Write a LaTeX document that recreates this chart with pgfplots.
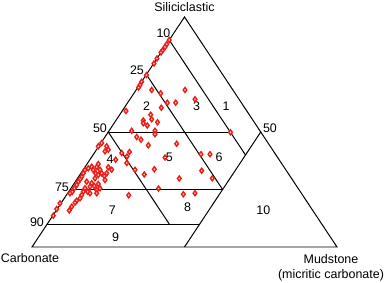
\documentclass[border=0pt]{standalone}
\usepackage{pgfplots}
\pgfplotsset{compat=1.18}
\usepackage{pgfplotstable}
\usepackage{fontspec}
\setmainfont{Liberation Sans}
\definecolor{ptred}{RGB}{235,30,25}
\definecolor{ptfill}{RGB}{255,215,205}

% sample positions in the diagram plane (x along base, y = siliciclastic level)
\pgfplotstableread{
x y
137.3 207
134.7 202.7
133 200
130.5 196.5
129 194.5
125 188.5
122 183.5
114.5 172
109.7 165.3
108 162
106.5 159.5
119.7 157
128.7 153.7
153 157
163 147.7
135.3 144.3
143.7 144.3
129.3 139.3
94 136
118.7 132.3
119.7 127.7
111.3 126.5
111.3 123.7
115.3 121.5
125.5 124.7
99.7 116.2
123 116.2
123 112.8
104.7 110
109 107.3
116.3 101.7
144.7 103.2
198.5 114.7
133 89.5
169 92.8
178 92.8
169.7 76.3
180.3 68.7
103 77.2
122.3 77.8
112.3 72.5
147.3 68.5
126.5 58.5
96.7 51.7
151.3 52.8
163 53.8
97.5 95
95 90.5
94.7 84
69.7 104
66.3 100.7
74.7 100.7
76.3 97.3
73 95.7
83.7 87.3
76.3 79.7
79.7 77.3
68 77.3
89.7 94
64.7 80
56.3 78.7
59.7 80.3
61.3 77
66.3 83
63.7 73.7
66.3 72
69.7 73.7
72.3 71
74.7 73.7
73 67
63 68.7
59.7 63.7
58 60.3
62.3 61
66.3 63
64.7 57
68 58.7
64.7 53.7
53 77
51.3 73.7
49.7 70.3
48 67.7
46.3 65.3
44.7 62
42.3 58.7
40.3 55.3
38 53.7
53 58.7
51.3 55.3
49.7 52
48 48.7
44.7 46.3
43 44.3
54.7 65.3
55.7 55.3
58 53.7
28 43.7
24.7 38
21.3 31.3
39.7 40.3
37.3 36.5
}\samples

\begin{document}
\begin{tikzpicture}[lab/.style={font=\fontsize{12.5}{15}\selectfont, inner sep=0pt}]
\begin{axis}[
  x=1bp, y=1bp,
  xmin=0, xmax=305, ymin=0, ymax=230,
  hide axis, clip=false,
]
% outer triangle
\addplot[black, line width=1pt, mark=none] coordinates {(0,0) (152.5,230) (305,0)} -- cycle;
% C = 10 %
\addplot[black, line width=1pt, mark=none] coordinates {(137.25,207) (213.5,92)};
% C = 25 %
\addplot[black, line width=1pt, mark=none] coordinates {(114.375,172.5) (190.625,57.5)};
% C = 50 %
\addplot[black, line width=1pt, mark=none] coordinates {(76.25,115) (137.25,23)};
% M = 50 %
\addplot[black, line width=1pt, mark=none] coordinates {(228.75,115) (152.5,0)};
% S = 50 %
\addplot[black, line width=1pt, mark=none] coordinates {(76.25,115) (198.25,115)};
% S = 25 %
\addplot[black, line width=1pt, mark=none] coordinates {(38.125,57.5) (190.625,57.5)};
% S = 10 %
\addplot[black, line width=1pt, mark=none] coordinates {(15.25,23) (167.75,23)};

\addplot[only marks, mark=diamond*, mark size=2.5pt,
  mark options={draw=ptred, fill=ptfill, line width=1.4pt}] table[x=x,y=y] {\samples};

% vertex titles
\node[lab] at (axis cs:152.5,240) {Siliciclastic};
\node[lab] at (axis cs:-2,-11) {Carbonate};
\node[lab, align=center] at (axis cs:299,-20.5) {Mudstone\\(micritic carbonate)};
% scale labels
\node[lab] at (axis cs:131.5,214) {10};
\node[lab] at (axis cs:105,177) {25};
\node[lab] at (axis cs:68,119) {50};
\node[lab] at (axis cs:30,60) {75};
\node[lab] at (axis cs:5,25) {90};
\node[lab] at (axis cs:238,119) {50};
% field numbers
\node[lab] at (axis cs:194,140.5) {1};
\node[lab] at (axis cs:114.7,141) {2};
\node[lab] at (axis cs:164.7,141) {3};
\node[lab] at (axis cs:78,87.7) {4};
\node[lab] at (axis cs:137.3,89.7) {5};
\node[lab] at (axis cs:187,89.7) {6};
\node[lab] at (axis cs:80.3,37) {7};
\node[lab] at (axis cs:155.7,39.7) {8};
\node[lab] at (axis cs:83.7,9.7) {9};
\node[lab] at (axis cs:231.3,37) {10};
\coordinate (bbl) at (axis cs:-32,-36);
\coordinate (btr) at (axis cs:356,247);
\end{axis}
\pgfresetboundingbox
\path[use as bounding box] (bbl) rectangle (btr);
\end{tikzpicture}
\end{document}
